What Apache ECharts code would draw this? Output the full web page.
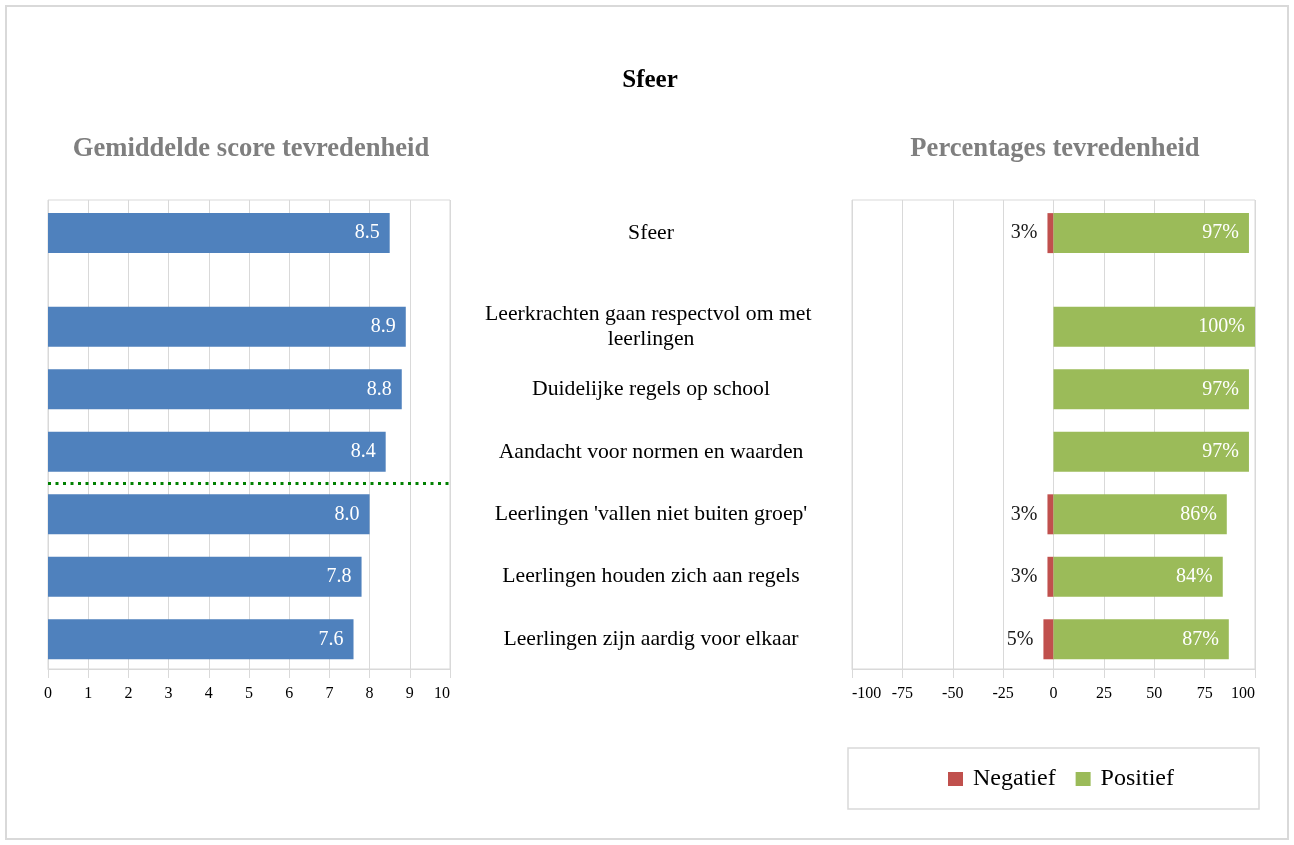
<!DOCTYPE html>
<html>
<head>
<meta charset="utf-8">
<title>Sfeer</title>
<script src="https://cdn.jsdelivr.net/npm/echarts@6/dist/echarts.min.js"></script>
<style>
  html, body { margin: 0; padding: 0; background: #fff; }
  #chart { width: 1294px; height: 845px; }
</style>
</head>
<body>
<div id="chart"></div>
<script>
// categorieën (van boven naar beneden)
const categories = [
  'Sfeer',
  'Leerkrachten gaan respectvol om met leerlingen',
  'Duidelijke regels op school',
  'Aandacht voor normen en waarden',
  "Leerlingen 'vallen niet buiten groep'",
  'Leerlingen houden zich aan regels',
  'Leerlingen zijn aardig voor elkaar'
]
// gemiddelde score
const scores = [8.5, 8.9, 8.8, 8.4, 8.0, 7.8, 7.6]
// percentages
const negatief = [3, 0, 0, 0, 3, 3, 5]
const positief = [97, 100, 97, 97, 86, 84, 87]

// layout: rij-posities op een fijnere categorie-as (lege plekken ertussen)
const rowSlots = [0, 3, 5, 7, 9, 11, 13]
const slotCount = 14
const normSlot = 8

const FONT = "'Liberation Serif', 'Times New Roman', serif"
const GRID_COLOR = '#d9d9d9'

// rijen over de slots verdelen
const toSlots = (values) => {
  const out = new Array(slotCount).fill('-')
  rowSlots.forEach((s, i) => { out[s] = values[i] })
  return out
}
const slotLabels = toSlots(categories).map(v => (v === '-' ? '' : v))

const chart = echarts.init(document.getElementById('chart'))

// gedeelde stijl voor zichtbare x-assen
const visibleX = (gridIndex, min, max, interval, extraLabel) => ({
  type: 'value',
  gridIndex,
  min,
  max,
  interval,
  axisLine: { show: true, onZero: false, lineStyle: { color: GRID_COLOR, width: 1 } },
  axisTick: { show: true, length: 9, lineStyle: { color: GRID_COLOR } },
  splitLine: { show: true, lineStyle: { color: GRID_COLOR, width: 1 } },
  axisLabel: Object.assign({ fontFamily: FONT, fontSize: 16, color: '#000', margin: 17 }, extraLabel)
})

const option = {
  animation: false,
  textStyle: { fontFamily: FONT },
  title: [
    {
      text: 'Sfeer',
      left: 650,
      top: 68,
      textAlign: 'center',
      padding: 0,
      textStyle: { fontFamily: FONT, fontSize: 25, fontWeight: 'bold', color: '#000' }
    },
    {
      text: 'Gemiddelde score tevredenheid',
      left: 251,
      top: 136,
      textAlign: 'center',
      padding: 0,
      textStyle: { fontFamily: FONT, fontSize: 26.6, fontWeight: 'bold', color: '#7f7f7f' }
    },
    {
      text: 'Percentages tevredenheid',
      left: 1055,
      top: 136,
      textAlign: 'center',
      padding: 0,
      textStyle: { fontFamily: FONT, fontSize: 26.6, fontWeight: 'bold', color: '#7f7f7f' }
    }
  ],
  legend: {
    data: ['Negatief', 'Positief'],
    left: 948,
    top: 767,
    padding: 0,
    icon: 'rect',
    itemWidth: 15,
    itemHeight: 14,
    itemGap: 20,
    textStyle: { fontFamily: FONT, fontSize: 24, color: '#000', padding: [0, 0, 0, 5] }
  },
  graphic: [
    {
      type: 'rect',
      shape: { x: 6, y: 6, width: 1282, height: 833 },
      style: { fill: 'none', stroke: GRID_COLOR, lineWidth: 2 },
      silent: true
    },
    {
      type: 'rect',
      shape: { x: 848, y: 748, width: 411, height: 61 },
      style: { fill: 'none', stroke: GRID_COLOR, lineWidth: 1.5 },
      silent: true
    }
  ],
  grid: [
    // achtergrond links
    { left: 48, width: 402, top: 200, height: 469, show: true, borderColor: GRID_COLOR, borderWidth: 1, backgroundColor: 'transparent' },
    // data links
    { left: 48, width: 402, top: 217.5, height: 437.4 },
    // achtergrond rechts
    { left: 852, width: 403, top: 200, height: 469, show: true, borderColor: GRID_COLOR, borderWidth: 1, backgroundColor: 'transparent' },
    // data rechts
    { left: 852, width: 403, top: 217.5, height: 437.4 }
  ],
  xAxis: [
    visibleX(0, 0, 10, 1, { alignMaxLabel: 'right' }),
    { type: 'value', gridIndex: 1, min: 0, max: 10, show: false },
    visibleX(2, -100, 100, 25, { alignMinLabel: 'left', alignMaxLabel: 'right' }),
    { type: 'value', gridIndex: 3, min: -100, max: 100, show: false }
  ],
  yAxis: [
    { type: 'value', gridIndex: 0, show: false },
    { type: 'category', gridIndex: 1, data: slotLabels, inverse: true, show: false },
    { type: 'value', gridIndex: 2, show: false },
    {
      type: 'category',
      gridIndex: 3,
      data: slotLabels,
      inverse: true,
      axisLine: { show: false },
      axisTick: { show: false },
      splitLine: { show: false },
      axisLabel: {
        interval: 0,
        margin: 201,
        align: 'center',
        verticalAlign: 'middle',
        width: 345,
        overflow: 'break',
        fontFamily: FONT,
        fontSize: 21.7,
        lineHeight: 25,
        color: '#000'
      }
    }
  ],
  series: [
    {
      name: 'Score',
      type: 'bar',
      xAxisIndex: 1,
      yAxisIndex: 1,
      data: toSlots(scores),
      barWidth: 40,
      clip: false,
      itemStyle: { color: '#4F81BD' },
      label: {
        show: true,
        position: 'insideRight',
        distance: 10,
        color: '#fff',
        fontFamily: FONT,
        fontSize: 20,
        formatter: (p) => Number(p.value).toFixed(1)
      },
      markLine: {
        silent: true,
        symbol: 'none',
        label: { show: false },
        lineStyle: { color: '#008000', type: [3, 4.5], width: 3 },
        data: [{ yAxis: normSlot }]
      }
    },
    {
      name: 'Negatief',
      type: 'bar',
      xAxisIndex: 3,
      yAxisIndex: 3,
      stack: 'pct',
      data: toSlots(negatief.map(v => -v)),
      barWidth: 40,
      clip: false,
      itemStyle: { color: '#C0504D' },
      label: {
        show: true,
        position: 'left',
        distance: 10,
        color: '#1a1a1a',
        fontFamily: FONT,
        fontSize: 20,
        formatter: (p) => (p.value ? Math.abs(p.value) + '%' : '')
      }
    },
    {
      name: 'Positief',
      type: 'bar',
      xAxisIndex: 3,
      yAxisIndex: 3,
      stack: 'pct',
      data: toSlots(positief),
      barWidth: 40,
      clip: false,
      itemStyle: { color: '#9BBB59' },
      label: {
        show: true,
        position: 'insideRight',
        distance: 10,
        color: '#fff',
        fontFamily: FONT,
        fontSize: 20,
        formatter: (p) => p.value + '%'
      }
    }
  ]
}

chart.setOption(option)
window.addEventListener('resize', () => chart.resize())
</script>
</body>
</html>
